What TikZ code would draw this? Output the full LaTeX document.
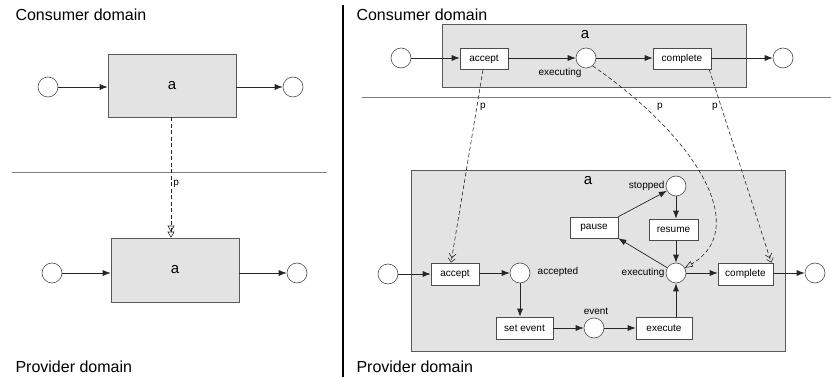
\documentclass[tikz,border=0pt]{standalone}
\usepackage{fontspec}
\setmainfont{Liberation Sans}
\usetikzlibrary{arrows.meta,positioning}

\begin{document}
\begin{tikzpicture}[x=1pt, y=-1pt,
    petriplace/.style={circle, draw=black!70, fill=white, line width=0.6pt,
                       minimum size=20pt, inner sep=0pt},
    petritrans/.style={draw=black!70, fill=white, line width=0.6pt,
                       minimum width=48pt, minimum height=21pt, inner sep=0pt,
                       font=\fontsize{10}{12}\selectfont},
    domainbox/.style={draw=black!65, fill=black!11, line width=0.6pt,
                      inner sep=0pt, font=\fontsize{15}{17}\selectfont},
    domaintitle/.style={anchor=west, font=\fontsize{16}{19}\selectfont},
    smalllabel/.style={font=\fontsize{10}{12}\selectfont, inner sep=1pt},
    flow/.style={draw=black!85, line width=0.7pt,
                 -{Latex[length=8pt, width=6pt]}},
    refine/.style={draw=black!85, line width=0.6pt, dash pattern=on 4pt off 2.5pt},
    separator/.style={draw=black!50, line width=0.8pt}
  ]
    \useasboundingbox (0,0) rectangle (831,377);

    % ---- left: whole activity ----
    \node[domaintitle] (lcons) at (12,15)  {Consumer domain};
    \node[domaintitle] (lprov) at (12,367) {Provider domain};

    \node[domainbox, minimum width=128pt, minimum height=63pt] (lca) at (172,85.5) {a};
    \node[petriplace] (lcin)  at (48,87)  {};
    \node[petriplace] (lcout) at (293,87) {};
    \draw[flow] (lcin) -- (lcin -| lca.west);
    \draw[flow] (lcout -| lca.east) -- (lcout);

    \node[domainbox, minimum width=128pt, minimum height=64pt] (lpa) at (175,270) {a};
    \node[petriplace] (lpin)  at (52,273)  {};
    \node[petriplace] (lpout) at (297,273) {};
    \draw[flow] (lpin) -- (lpin -| lpa.west);
    \draw[flow] (lpout -| lpa.east) -- (lpout);

    \coordinate (lsepa) at (12,172);
    \coordinate (lsepb) at (327,172);
    \draw[separator] (lsepa) -- (lsepb);

    \draw[refine, -{Triangle[open, length=6pt, width=7pt] Triangle[open, length=6pt, width=7pt]}]
      ([xshift=-1pt]lca.south) -- ([xshift=-1pt]lca.south |- lpa.north)
      node[smalllabel, pos=0.55, right=1pt] (lp) {p};

    % ---- divider ----
    \coordinate (divtop) at (343,5);
    \coordinate (divbot) at (343,377);
    \draw[black, line width=2pt] (divtop) -- (divbot);

    % ---- right: consumer side ----
    \node[domaintitle] (rcons) at (353,15)  {Consumer domain};
    \node[domaintitle] (rprov) at (353,367) {Provider domain};

    \node[domainbox, minimum width=304pt, minimum height=63pt] (rca) at (594,55.5) {};
    \node[font=\fontsize{15}{17}\selectfont] (rcal) at (585,35) {a};
    \node[petriplace] (rcin)  at (401,58) {};
    \node[petritrans] (rcacc) at (484,59) {accept};
    \node[petriplace] (rcexe) at (586,58) {};
    \node[petritrans, minimum width=58pt] (rccom) at (682,59) {complete};
    \node[petriplace] (rcout) at (783,58) {};
    \node[smalllabel] (rcexel) at (560,73) {executing};
    \draw[flow] (rcin) -- (rcin -| rcacc.west);
    \draw[flow] (rcexe -| rcacc.east) -- (rcexe);
    \draw[flow] (rcexe) -- (rcexe -| rccom.west);
    \draw[flow] (rcout -| rccom.east) -- (rcout);

    \coordinate (rsepa) at (362,97);
    \coordinate (rsepb) at (831,97);
    \draw[separator] (rsepa) -- (rsepb);

    % ---- right: provider side ----
    \node[domainbox, minimum width=374pt, minimum height=181pt] (rpa) at (598,260.5) {};
    \node[font=\fontsize{15}{17}\selectfont] (rpal) at (588,181) {a};

    \node[petriplace] (rpin)   at (388,274) {};
    \node[petritrans, minimum height=22pt] (rpacc) at (455,274) {accept};
    \node[petriplace] (rpaccd) at (520,273) {};
    \node[petritrans, minimum width=57pt, minimum height=22pt] (rpset) at (524.5,328) {set event};
    \node[petriplace] (rpev)   at (594,328) {};
    \node[petritrans, minimum width=56pt, minimum height=22pt] (rpexe) at (664,328) {execute};
    \node[petriplace] (rpexg)  at (676,273) {};
    \node[petritrans, minimum width=55pt, minimum height=22pt] (rpcom) at (745.5,274) {complete};
    \node[petriplace] (rpout)  at (815,273) {};
    \node[petriplace] (rpstop) at (676,186) {};
    \node[petritrans] (rppause) at (594,227.5) {pause};
    \node[petritrans, minimum width=49pt] (rpres) at (673.5,229.5) {resume};

    \node[smalllabel] (rpaccdl) at (558,272) {accepted};
    \node[smalllabel] (rpevl)   at (596,311) {event};
    \node[smalllabel, left=0pt of rpexg] (rpexgl) {executing};
    \node[smalllabel, left=0pt of rpstop] (rpstopl) {stopped};

    \draw[flow] (rpin) -- (rpin -| rpacc.west);
    \draw[flow] (rpaccd -| rpacc.east) -- (rpaccd);
    \draw[flow] (rpaccd) -- (rpaccd |- rpset.north);
    \draw[flow] (rpev -| rpset.east) -- (rpev);
    \draw[flow] (rpev) -- (rpev -| rpexe.west);
    \draw[flow] (rpexg |- rpexe.north) -- (rpexg);
    \draw[flow] (rpexg) -- (rpexg -| rpcom.west);
    \draw[flow] (rpout -| rpcom.east) -- (rpout);
    \draw[flow] (rpexg) -- (rppause.south east);
    \draw[flow] (rppause.north east) -- (rpstop);
    \draw[flow] (rpstop) -- (rpstop |- rpres.north);
    \draw[flow] (rpstop |- rpres.south) -- (rpexg);

    % ---- refinement links ----
    \draw[refine, -{Straight Barb[length=4pt, width=7pt] Straight Barb[length=4pt, width=7pt]}]
      ([xshift=-1pt]rcacc.south) -- ([xshift=-4pt]rpacc.north)
      node[smalllabel, pos=0.19, right=2pt] (rp1) {p};
    \draw[refine, -{Triangle[open, length=8pt, width=6pt]}]
      (rcexe.-50) .. controls (700,140) and (750,230) .. (rpexg.30);
    \node[smalllabel] (rp2) at (660,107) {p};
    \draw[refine, -{Straight Barb[length=4pt, width=7pt] Straight Barb[length=4pt, width=7pt]}]
      ([xshift=-2pt]rccom.south east) -- ([xshift=-2pt]rpcom.north east)
      node[smalllabel, pos=0.19, left=2pt] (rp3) {p};
\end{tikzpicture}
\end{document}
